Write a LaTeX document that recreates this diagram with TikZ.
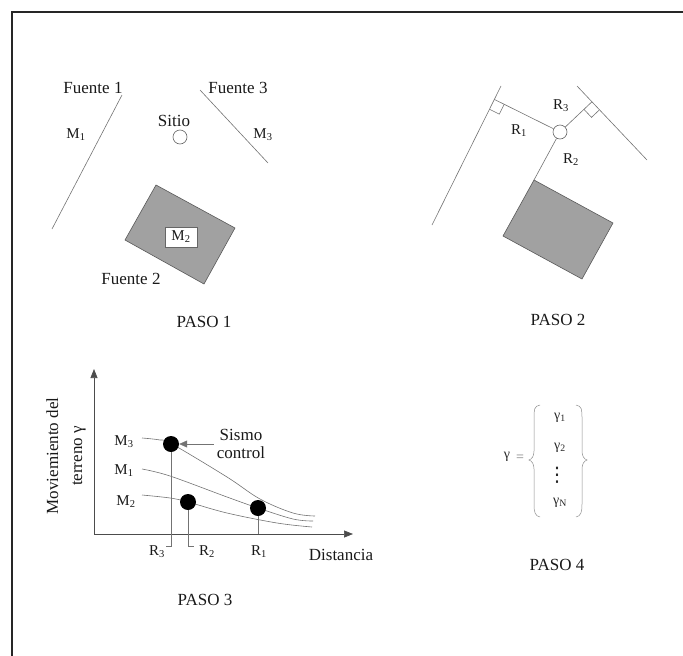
\documentclass[tikz,border=0pt]{standalone}
\usepackage{fontspec}
\setmainfont{Liberation Serif}
\newfontfamily\dvsans{DejaVu Sans}
\usetikzlibrary{arrows.meta,calc}
\begin{document}
\begin{tikzpicture}[x=1pt,y=-1pt,
  lbl/.style={inner sep=0pt,text=black!90,font=\fontsize{17}{18}\selectfont},
  sub/.style={inner sep=0pt,text=black!90,font=\fontsize{15}{17}\selectfont},
  gsub/.style={inner sep=0pt,text=black!85,font=\fontsize{14}{16}\selectfont},
  thinline/.style={draw=black!55,line width=0.6pt},
  src/.style={draw=black!65,fill=black!37,line width=0.6pt},
  dot/.style={circle,fill=black,inner sep=0pt,minimum size=16pt},
  site/.style={circle,draw=black!60,fill=white,inner sep=0pt,minimum size=14pt,line width=0.6pt},
  ax/.style={draw=black!70,line width=0.7pt,-{Triangle[length=9pt,width=7pt]}},
  brace/.style={draw=black!45,line width=0.5pt},
]
\useasboundingbox (0,0) rectangle (683,656);
% frame
\coordinate (fbl) at (12,656);
\coordinate (ftl) at (12,12);
\coordinate (ftr) at (683,12);
\draw[line width=1.6pt,black!85] (fbl) -- (ftl) -- (ftr);

% ---------------- PASO 1 ----------------
\coordinate (l1a) at (122,95);
\coordinate (l1b) at (52,229);
\coordinate (l3a) at (200,90);
\coordinate (l3b) at (268,163);
\draw[thinline] (l1a) -- (l1b);
\draw[thinline] (l3a) -- (l3b);
\node[lbl] (f1) at (93,88) {Fuente 1};
\node[lbl] (f3) at (238,88) {Fuente 3};
\node[sub] (m1) at (76,135) {M\textsubscript{1}};
\node[sub] (m3) at (263,135) {M\textsubscript{3}};
\node[lbl] (sitio) at (174,121) {Sitio};
\node[site] (s1) at (180,137) {};
\coordinate (r1t) at (156,185);
\coordinate (r1r) at (235,228);
\coordinate (r1b) at (204,284);
\coordinate (r1l) at (125,240);
\draw[src] (r1t) -- (r1r) -- (r1b) -- (r1l) -- cycle;
\node[sub,draw=black!60,fill=white,minimum width=32pt,minimum height=20pt] (m2) at (181,237) {M\textsubscript{2}};
\node[lbl] (f2) at (131,279) {Fuente 2};
\node[lbl] (p1) at (204,322) {PASO 1};

% ---------------- PASO 2 ----------------
\coordinate (a1) at (501,86);
\coordinate (b1) at (432,225);
\coordinate (a3) at (577,86);
\coordinate (b3) at (647,160);
\draw[thinline] (a1) -- (b1);
\draw[thinline] (a3) -- (b3);
\node[site] (s2) at (560,132) {};
\coordinate (ft1) at ($(a1)!(s2.center)!(b1)$);
\coordinate (ft3) at ($(a3)!(s2.center)!(b3)$);
\draw[thinline] (s2) -- (ft1);
\draw[thinline] (s2) -- (ft3);
\coordinate (q1a) at ($(ft1)!11pt!(b1)$);
\coordinate (q1b) at ($(ft1)!11pt!(s2.center)$);
\coordinate (q1c) at ($(q1a)+(q1b)-(ft1)$);
\draw[thinline] (q1a) -- (q1c) -- (q1b);
\coordinate (q3a) at ($(ft3)!11pt!(b3)$);
\coordinate (q3b) at ($(ft3)!11pt!(s2.center)$);
\coordinate (q3c) at ($(q3a)+(q3b)-(ft3)$);
\draw[thinline] (q3a) -- (q3c) -- (q3b);
\coordinate (r2t) at (534,180);
\coordinate (r2r) at (613,223);
\coordinate (r2b) at (582,279);
\coordinate (r2l) at (503,236);
\draw[src] (r2t) -- (r2r) -- (r2b) -- (r2l) -- cycle;
\draw[thinline] (s2) -- (r2t);
\node[sub] (R3a) at (561,106) {R\textsubscript{3}};
\node[sub] (R1a) at (519,131) {R\textsubscript{1}};
\node[sub] (R2a) at (571,160) {R\textsubscript{2}};
\node[lbl] (p2) at (558,320) {PASO 2};

% ---------------- PASO 3 ----------------
\coordinate (o) at (94,534);
\coordinate (ytip) at (94,369);
\coordinate (xtip) at (353,534);
\draw[ax] (o) -- (ytip);
\draw[ax] (o) -- (xtip);
\draw[thinline] plot[smooth,tension=0.6] coordinates {(142,438) (160,440) (172,444) (227,477) (260,499) (293,513) (315,516)};
\draw[thinline] plot[smooth,tension=0.6] coordinates {(142,469) (170,476) (227,497) (258,508) (293,519) (313,521)};
\draw[thinline] plot[smooth,tension=0.6] coordinates {(142,495) (170,498) (188,502) (227,513) (277,523) (312,527)};
\node[dot] (d3) at (171,444) {};
\node[dot] (d2) at (188,502) {};
\node[dot] (d1) at (258,508) {};
\coordinate (d3a) at (171,546);
\coordinate (d3b) at (166,546);
\coordinate (d2a) at (188,546);
\coordinate (d2b) at (194,546);
\coordinate (d1a) at (258,534);
\draw[thinline] (d3) -- (d3a) -- (d3b);
\draw[thinline] (d2) -- (d2a) -- (d2b);
\draw[thinline] (d1) -- (d1a);
\node[sub] (M3b) at (124,442) {M\textsubscript{3}};
\node[sub] (M1b) at (124,471) {M\textsubscript{1}};
\node[sub] (M2b) at (126,502) {M\textsubscript{2}};
\node[sub] (R3b) at (157,552) {R\textsubscript{3}};
\node[sub] (R2b) at (207,552) {R\textsubscript{2}};
\node[sub] (R1b) at (259,552) {R\textsubscript{1}};
\node[lbl,align=center,font=\fontsize{17}{18}\selectfont] (sc) at (241,444) {Sismo\\control};
\draw[thinline,-{Triangle[length=8pt,width=7pt]},shorten <=3pt] (sc) -- (d3);
\node[lbl] (dist) at (341,555) {Distancia};
\node[lbl,rotate=90,align=center,font=\fontsize{17}{24}\selectfont] (ylab) at (66,456) {Moviemiento del\\terreno γ};
\node[lbl] (p3) at (205,600) {PASO 3};

% ---------------- PASO 4 ----------------
\node[gsub] (gam) at (507,457) {γ};
\node[gsub,text=black!50] (eq) at (520,458) {=};
\node[gsub] (g1) at (560,418) {γ\textsubscript{1}};
\node[gsub] (g2) at (560,448) {γ\textsubscript{2}};
\node[inner sep=0pt,text=black!85,font=\dvsans\fontsize{20}{20}\selectfont] (vd) at (557,475) {⋮};
\node[gsub] (gN) at (560,503) {γ\textsubscript{N}};
\coordinate (lbt) at (540,405);
\coordinate (lbm) at (529,460);
\coordinate (lbb) at (540,517);
\draw[brace] (lbt) .. controls (534,406) and (534,410) .. (534,418) -- (534,451) .. controls (534,456) and (532,459) .. (lbm) .. controls (532,461) and (534,464) .. (534,469) -- (534,504) .. controls (534,512) and (535,516) .. (lbb);
\coordinate (rbt) at (576,405);
\coordinate (rbm) at (587,460);
\coordinate (rbb) at (576,517);
\draw[brace] (rbt) .. controls (582,406) and (582,410) .. (582,418) -- (582,451) .. controls (582,456) and (584,459) .. (rbm) .. controls (584,461) and (582,464) .. (582,469) -- (582,504) .. controls (582,512) and (581,516) .. (rbb);
\node[lbl] (p4) at (557,565) {PASO 4};
\end{tikzpicture}
\end{document}
